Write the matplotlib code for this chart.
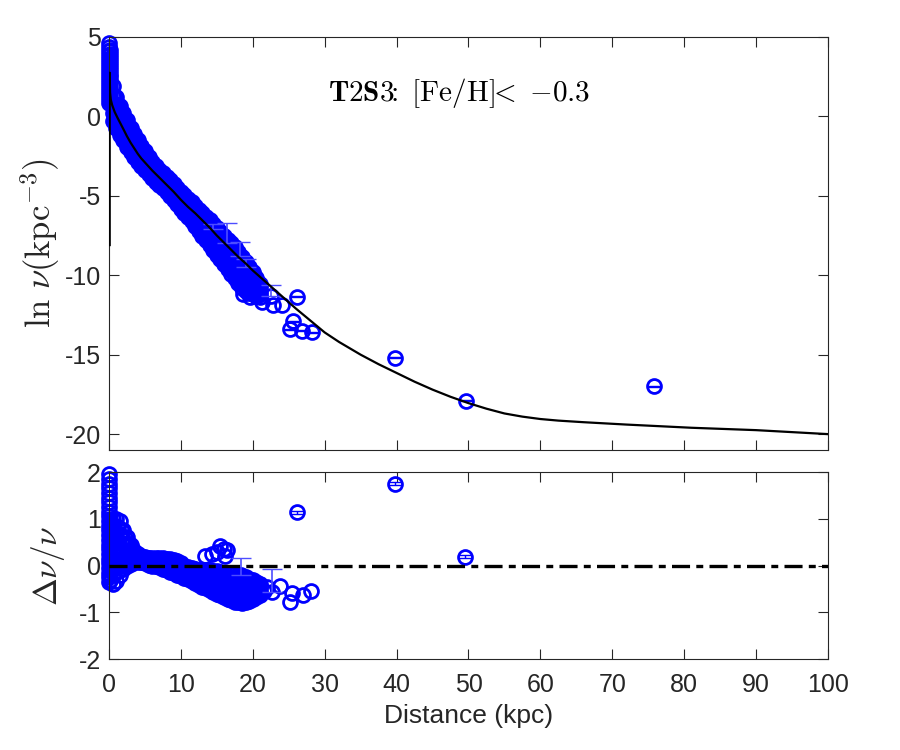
import numpy as np
import matplotlib
matplotlib.use("Agg")
import matplotlib.pyplot as plt

plt.rcParams['font.family'] = ['Liberation Sans', 'DejaVu Sans']
plt.rcParams['mathtext.fontset'] = 'cm'
plt.rcParams['axes.unicode_minus'] = False
plt.rcParams['lines.scale_dashes'] = False

# ---------------- data ----------------

# dense band of star-count bins, upper panel (ln nu), rows across the band
band_dist = [0.5, 1.0, 1.5, 2.0, 2.5, 3.0, 3.5, 4.0, 4.5, 5.0,
             5.5, 6.0, 6.5, 7.0, 7.5, 8.0, 8.5, 9.0, 9.5, 10.0,
             10.5, 11.0, 11.5, 12.0, 12.5, 13.0, 13.5, 14.0, 14.5, 15.0,
             15.5, 16.0, 16.5, 17.0, 17.5, 18.0, 18.5, 19.0, 19.5, 20.0, 20.5, 21.0]
lnnu_row1 = [1.9, 1.2, 0.65, 0.2, -0.25, -0.7, -1.1, -1.5, -1.85, -2.2,
             -2.55, -2.85, -3.1, -3.35, -3.55, -3.8, -4.0, -4.25, -4.5, -4.75,
             -4.95, -5.2, -5.4, -5.65, -5.9, -6.1, -6.35, -6.55, -6.8, -7.05,
             -7.25, -7.5, -7.75, -8.0, -8.25, -8.55, -8.85, -9.15, -9.45, -9.8, -10.15, -10.55]
lnnu_row2 = [1.3, 0.7, 0.2, -0.25, -0.7, -1.1, -1.5, -1.85, -2.2, -2.5,
             -2.8, -3.1, -3.35, -3.6, -3.8, -4.05, -4.25, -4.5, -4.75, -5.0,
             -5.2, -5.45, -5.7, -5.95, -6.2, -6.45, -6.7, -6.95, -7.2, -7.45,
             -7.7, -7.95, -8.2, -8.45, -8.75, -9.0, -9.35, -9.6, -9.85, -10.15, -10.45, -10.75]
lnnu_row3 = [0.75, 0.2, -0.25, -0.7, -1.1, -1.5, -1.85, -2.2, -2.5, -2.8,
             -3.1, -3.35, -3.6, -3.8, -4.0, -4.25, -4.5, -4.75, -5.0, -5.25,
             -5.5, -5.75, -6.0, -6.25, -6.5, -6.8, -7.05, -7.3, -7.6, -7.85,
             -8.1, -8.4, -8.65, -8.95, -9.25, -9.5, -9.8, -10.05, -10.3, -10.5, -10.75, -11.0]
lnnu_row4 = [0.2, -0.3, -0.7, -1.1, -1.5, -1.9, -2.2, -2.55, -2.85, -3.1,
             -3.4, -3.65, -3.85, -4.05, -4.25, -4.5, -4.75, -5.0, -5.25, -5.5,
             -5.8, -6.05, -6.3, -6.6, -6.85, -7.15, -7.45, -7.7, -8.0, -8.3,
             -8.55, -8.85, -9.15, -9.45, -9.75, -10.0, -10.3, -10.55, -10.7, -10.85, -11.05, -11.2]
lnnu_row5 = [-0.3, -0.75, -1.15, -1.5, -1.9, -2.25, -2.55, -2.85, -3.15, -3.4,
             -3.65, -3.9, -4.1, -4.3, -4.5, -4.75, -5.0, -5.25, -5.5, -5.8,
             -6.05, -6.35, -6.6, -6.9, -7.2, -7.5, -7.8, -8.1, -8.4, -8.7,
             -9.0, -9.3, -9.6, -9.9, -10.2, -10.5, -10.8, -11.0, -11.1, -11.2, -11.3, -11.4]

# second set of bins, between the ones above
band_dist_b = [0.75, 1.25, 1.75, 2.25, 2.75, 3.25, 3.75, 4.25, 4.75, 5.25,
               5.75, 6.25, 6.75, 7.25, 7.75, 8.25, 8.75, 9.25, 9.75, 10.25,
               10.75, 11.25, 11.75, 12.25, 12.75, 13.25, 13.75, 14.25, 14.75, 15.25,
               15.75, 16.25, 16.75, 17.25, 17.75, 18.25, 18.75, 19.25, 19.75, 20.25, 20.75]
lnnu_b1 = [1.29, 0.70, 0.21, -0.24, -0.68, -1.09, -1.48, -1.85, -2.19, -2.52,
           -2.84, -3.11, -3.35, -3.57, -3.8, -4.02, -4.26, -4.51, -4.76, -4.99,
           -5.22, -5.45, -5.68, -5.94, -6.17, -6.41, -6.64, -6.88, -7.13, -7.36,
           -7.6, -7.86, -8.11, -8.37, -8.64, -8.94, -9.24, -9.52, -9.82, -10.14, -10.48]
lnnu_b2 = [0.77, 0.23, -0.23, -0.66, -1.08, -1.46, -1.83, -2.18, -2.5, -2.81,
           -3.11, -3.36, -3.59, -3.81, -4.04, -4.27, -4.51, -4.76, -5.01, -5.26,
           -5.5, -5.74, -5.99, -6.26, -6.51, -6.76, -7.01, -7.27, -7.54, -7.79,
           -8.04, -8.31, -8.58, -8.85, -9.13, -9.43, -9.71, -9.96, -10.2, -10.46, -10.73]
lnnu_b3 = [0.25, -0.25, -0.67, -1.07, -1.48, -1.84, -2.18, -2.51, -2.81, -3.1,
           -3.38, -3.62, -3.84, -4.04, -4.27, -4.51, -4.76, -5.01, -5.27, -5.53,
           -5.78, -6.04, -6.29, -6.57, -6.84, -7.12, -7.39, -7.66, -7.94, -8.21,
           -8.49, -8.77, -9.05, -9.33, -9.62, -9.92, -10.19, -10.39, -10.58, -10.77, -10.98]
lnnu_b4 = [-0.27, -0.71, -1.11, -1.49, -1.88, -2.21, -2.53, -2.84, -3.12, -3.39,
           -3.65, -3.87, -4.08, -4.28, -4.51, -4.76, -5.01, -5.26, -5.52, -5.8,
           -6.06, -6.33, -6.6, -6.89, -7.18, -7.47, -7.76, -8.05, -8.35, -8.64,
           -8.93, -9.22, -9.52, -9.81, -10.11, -10.41, -10.66, -10.83, -10.96, -11.09, -11.23]

# innermost bins, piled up at ~0 kpc
core_dist = [0.05] * 16 + [0.2] * 14
core_lnnu = [4.6, 4.35, 4.1, 3.85, 3.6, 3.35, 3.1, 2.85, 2.6, 2.35, 2.1, 1.85, 1.6, 1.35, 1.1, 0.85,
             4.2, 3.95, 3.7, 3.45, 3.2, 2.95, 2.7, 2.45, 2.2, 1.95, 1.7, 1.45, 1.2, 0.95]

# sparse outer bins
outer_dist = [18.7, 19.6, 21.3, 22.8, 24.0, 26.1, 25.6, 25.2, 26.8, 28.2, 39.8, 49.6, 75.8]
outer_lnnu = [-11.2, -11.4, -11.7, -11.9, -11.9, -11.35, -12.9, -13.4, -13.5, -13.6, -15.2, -17.9, -17.0]

# bins with visible (upper) error bars in the band
err_dist = [14.5, 16.4, 18.2, 19.1, 22.6]
err_lnnu = [-7.1, -8.0, -8.8, -9.5, -11.3]
err_up = [0.35, 1.27, 0.9, 0.5, 0.7]

# best-fit model
model_dist = [0.1, 0.1, 0.15, 0.25, 0.45, 0.8, 1.2, 1.6, 2.0, 2.5, 3.0, 3.5, 4.0, 4.5, 5.0,
              6, 7, 8, 9, 10, 11, 12, 13, 14, 15, 16, 17, 18, 19, 20, 22, 24, 26, 28, 30,
              32, 35, 37.5, 40, 42.5, 45, 47.5, 50, 52.5, 55, 57.5, 60, 62.5, 66, 72, 81, 90, 100]
model_lnnu = [-8.1, 2.75, 1.5, 1.05, 0.7, 0.27, -0.1, -0.45, -0.8, -1.25, -1.65, -2.0, -2.35, -2.65, -2.9,
              -3.4, -3.85, -4.3, -4.75, -5.25, -5.7, -6.1, -6.55, -7.0, -7.5, -7.95, -8.4, -8.85, -9.25, -9.7,
              -10.5, -11.3, -12.1, -12.85, -13.6, -14.2, -15.0, -15.6, -16.15, -16.7, -17.2, -17.65, -18.05,
              -18.4, -18.7, -18.9, -19.05, -19.15, -19.25, -19.4, -19.6, -19.75, -20.0]

# residuals, lower panel, rows across the band
res_row1 = [1.0, 1.0, 0.95, 0.75, 0.6, 0.45, 0.32, 0.24, 0.2, 0.18,
            0.17, 0.17, 0.17, 0.17, 0.16, 0.15, 0.14, 0.12, 0.09, 0.05,
            0.0, -0.04, -0.06, -0.08, -0.09, -0.1, -0.1, -0.1, -0.11, -0.12,
            -0.13, -0.15, -0.16, -0.18, -0.19, -0.2, -0.22, -0.25, -0.28, -0.32, -0.36, -0.4]
res_row2 = [0.65, 0.67, 0.66, 0.55, 0.45, 0.35, 0.26, 0.2, 0.17, 0.15,
            0.13, 0.13, 0.12, 0.12, 0.1, 0.09, 0.07, 0.05, 0.02, -0.02,
            -0.07, -0.1, -0.13, -0.15, -0.17, -0.19, -0.2, -0.21, -0.23, -0.24,
            -0.26, -0.28, -0.3, -0.32, -0.34, -0.35, -0.37, -0.39, -0.4, -0.42, -0.44, -0.46]
res_row3 = [0.3, 0.33, 0.38, 0.34, 0.3, 0.25, 0.2, 0.16, 0.14, 0.12,
            0.1, 0.09, 0.08, 0.07, 0.05, 0.03, 0.0, -0.03, -0.06, -0.09,
            -0.13, -0.17, -0.2, -0.23, -0.25, -0.28, -0.3, -0.32, -0.34, -0.36,
            -0.39, -0.41, -0.44, -0.46, -0.48, -0.5, -0.51, -0.52, -0.52, -0.52, -0.52, -0.52]
res_row4 = [-0.04, 0.0, 0.09, 0.14, 0.15, 0.14, 0.13, 0.12, 0.1, 0.08,
            0.06, 0.04, 0.03, 0.01, -0.01, -0.04, -0.06, -0.1, -0.13, -0.16,
            -0.2, -0.23, -0.26, -0.3, -0.33, -0.36, -0.39, -0.42, -0.46, -0.48,
            -0.51, -0.54, -0.57, -0.6, -0.63, -0.64, -0.66, -0.66, -0.64, -0.62, -0.6, -0.58]
res_row5 = [-0.39, -0.33, -0.2, -0.07, 0.0, 0.04, 0.07, 0.08, 0.07, 0.05,
            0.02, 0.0, -0.02, -0.04, -0.07, -0.1, -0.13, -0.17, -0.2, -0.23,
            -0.26, -0.29, -0.33, -0.37, -0.41, -0.45, -0.49, -0.53, -0.57, -0.6,
            -0.64, -0.67, -0.71, -0.74, -0.77, -0.79, -0.8, -0.79, -0.76, -0.72, -0.68, -0.64]

res_b1 = [0.83, 0.82, 0.73, 0.59, 0.47, 0.35, 0.26, 0.2, 0.17, 0.16,
          0.15, 0.15, 0.15, 0.14, 0.13, 0.12, 0.1, 0.07, 0.03, 0.0,
          -0.05, -0.08, -0.11, -0.13, -0.14, -0.15, -0.15, -0.17, -0.18, -0.19,
          -0.21, -0.23, -0.24, -0.26, -0.27, -0.28, -0.31, -0.33, -0.36, -0.39, -0.42]
res_b2 = [0.49, 0.51, 0.48, 0.41, 0.34, 0.27, 0.21, 0.17, 0.14, 0.13,
          0.11, 0.1, 0.1, 0.08, 0.07, 0.05, 0.03, 0.0, -0.04, -0.08,
          -0.12, -0.15, -0.18, -0.2, -0.22, -0.24, -0.25, -0.28, -0.3, -0.31,
          -0.34, -0.36, -0.38, -0.4, -0.42, -0.43, -0.45, -0.46, -0.47, -0.48, -0.49]
res_b3 = [0.15, 0.2, 0.23, 0.23, 0.21, 0.18, 0.16, 0.13, 0.11, 0.09,
          0.07, 0.06, 0.05, 0.03, 0.0, -0.02, -0.05, -0.08, -0.11, -0.15,
          -0.18, -0.21, -0.25, -0.28, -0.31, -0.33, -0.36, -0.39, -0.41, -0.44,
          -0.47, -0.49, -0.52, -0.55, -0.56, -0.58, -0.59, -0.59, -0.58, -0.57, -0.56]
res_b4 = [-0.19, -0.11, -0.02, 0.05, 0.08, 0.1, 0.11, 0.1, 0.08, 0.06,
          0.03, 0.01, 0.0, -0.03, -0.06, -0.09, -0.12, -0.15, -0.18, -0.22,
          -0.25, -0.28, -0.32, -0.35, -0.39, -0.42, -0.46, -0.5, -0.53, -0.56,
          -0.6, -0.62, -0.66, -0.69, -0.71, -0.73, -0.73, -0.72, -0.69, -0.66, -0.63]

res_core_dist = [0.05] * 24 + [0.2] * 14
res_core = [1.95, 1.85, 1.75, 1.65, 1.55, 1.45, 1.35, 1.25, 1.15, 1.05, 0.95, 0.85,
            0.75, 0.65, 0.55, 0.45, 0.35, 0.25, 0.15, 0.05, -0.05, -0.15, -0.25, -0.35,
            1.0, 0.9, 0.8, 0.7, 0.6, 0.5, 0.4, 0.3, 0.2, 0.1, 0.0, -0.1, -0.2, -0.3]

res_outer_dist = [13.4, 14.3, 15.0, 15.4, 16.0, 16.4, 16.2, 19.5, 20.8, 21.5, 22.0,
                  23.8, 25.4, 25.2, 27.0, 28.1, 26.1, 39.8, 49.5]
res_outer = [0.2, 0.25, 0.3, 0.41, 0.35, 0.33, 0.2, -0.5, -0.4, -0.55, -0.45,
             -0.43, -0.58, -0.78, -0.62, -0.54, 1.14, 1.75, 0.19]

res_err_dist = [18.4, 22.7]
res_err_val = [-0.2, -0.56]
res_err_up = [0.37, 0.48]

# ---------------- plotting ----------------

blue = (0, 0, 1)
ebar_blue = '#4d4dff'
axis_grey = '#262626'
mk = dict(marker='o', ls='none', ms=10, mfc='none', mec=blue, mew=2, clip_on=False)

fig = plt.figure(figsize=(9, 7.5), dpi=100)
ax1 = fig.add_axes([0.1211, 0.4, 0.7989, 0.5507])
ax2 = fig.add_axes([0.1211, 0.1213, 0.7989, 0.2493])

for ax in (ax1, ax2):
    for s in ax.spines.values():
        s.set_color(axis_grey)
        s.set_linewidth(0.8)
    ax.tick_params(direction='in', top=True, right=True, length=7, width=0.8,
                   colors=axis_grey, labelsize=18, pad=6)
    ax.set_xlim(0, 100)
    ax.set_xticks(range(0, 101, 10))

# upper panel
for row in (lnnu_row1, lnnu_row2, lnnu_row3, lnnu_row4, lnnu_row5):
    ax1.plot(band_dist, row, **mk)
for row in (lnnu_b1, lnnu_b2, lnnu_b3, lnnu_b4):
    ax1.plot(band_dist_b, row, **mk)
ax1.plot(core_dist, core_lnnu, **mk)
ax1.plot(outer_dist, outer_lnnu, **mk)
ax1.errorbar(outer_dist[5:], outer_lnnu[5:], yerr=0.03, fmt='none', ecolor=blue,
             elinewidth=1, capsize=4)
ax1.plot(err_dist, err_lnnu, **mk)
ax1.errorbar(err_dist, err_lnnu, yerr=[[0] * len(err_up), err_up], fmt='none',
             ecolor=ebar_blue, elinewidth=1.2, capsize=7)
ax1.plot(model_dist, model_lnnu, color='k', lw=1.6, zorder=5)

ax1.set_ylim(-21, 5)
ax1.set_yticks([-20, -15, -10, -5, 0, 5])
ax1.set_xticklabels([])
ax1.set_ylabel(r'$\ln\,\nu(\mathrm{kpc}^{-3})$', fontsize=25, color=axis_grey, labelpad=2)
ax1.text(48.7, 1.5, r'$\mathbf{T2S3}\!\!\mathrm{:}\ [\mathrm{Fe/H}]\!\!<\ {-0.3}$',
         ha='center', va='center', fontsize=21)

# lower panel
for row in (res_row1, res_row2, res_row3, res_row4, res_row5):
    ax2.plot(band_dist, row, **mk)
for row in (res_b1, res_b2, res_b3, res_b4):
    ax2.plot(band_dist_b, row, **mk)
ax2.plot(res_core_dist, res_core, **mk)
ax2.plot(res_outer_dist, res_outer, **mk)
ax2.errorbar(res_outer_dist[-3:], res_outer[-3:], yerr=0.03, fmt='none', ecolor=blue,
             elinewidth=1, capsize=4)
ax2.plot(res_err_dist, res_err_val, **mk)
ax2.errorbar(res_err_dist, res_err_val, yerr=[[0, 0], res_err_up], fmt='none',
             ecolor=ebar_blue, elinewidth=1.2, capsize=7)
ax2.axhline(0, color='k', lw=2.4, ls=(0, (13, 4.5, 5, 4.5)), zorder=5)

ax2.set_ylim(-2, 2)
ax2.set_yticks([-2, -1, 0, 1, 2])
ax2.tick_params(axis='x', pad=10)
ax2.set_xlabel('Distance (kpc)', fontsize=19, color=axis_grey, labelpad=5)
ax2.set_ylabel(r'$\Delta\nu/\nu$', fontsize=24, color=axis_grey, labelpad=8)

fig.savefig('out.png', dpi=100)
